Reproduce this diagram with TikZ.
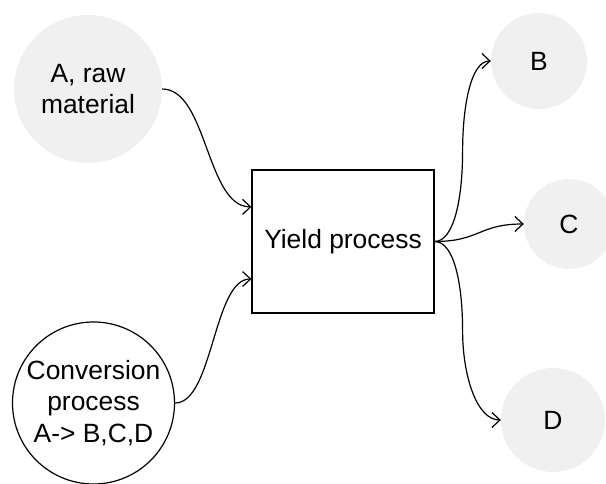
\documentclass[tikz,border=0pt]{standalone}
\usepackage{fontspec}
\setmainfont{Liberation Sans}
\usetikzlibrary{arrows.meta,calc}
\definecolor{softgray}{HTML}{F0F0F0}
\tikzset{
  every node/.style={font=\fontsize{26.4}{31.5}\selectfont, align=center, inner sep=0pt},
  graycircle/.style={circle, fill=softgray, draw=none},
  whitecircle/.style={circle, fill=white, draw=black, line width=1.2pt},
  procbox/.style={rectangle, draw=black, fill=white, line width=1.2pt, minimum width=182pt, minimum height=143pt},
  link/.style={line width=1.2pt, -{Straight Barb[length=8pt,width=15pt]}},
}
\begin{document}
\begin{tikzpicture}[x=1pt,y=-1pt]
\useasboundingbox (0,0) rectangle (606,484);
\node[graycircle, minimum size=148pt] (A) at (88,89) {A, raw\\material};
\node[whitecircle, minimum size=162pt] (conv) at (93.5,403) {Conversion\\process\\A-> B,C,D};
\node[procbox] (box) at (343,241.5) {Yield process};
\node[graycircle, minimum size=96pt] (B) at (539,61) {B};
\node[graycircle, minimum size=90pt] (C) at (569,224) {C};
\node[graycircle, minimum size=104pt] (D) at (553,420) {D};

\coordinate (boxin1) at ($(box.north west)!0.26!(box.south west)$);
\coordinate (boxin2) at ($(box.north west)!0.76!(box.south west)$);
\coordinate (bend) at ($(box.east)+(28,0)$);
\coordinate (midB) at ($(box.east)!0.5!(B.west)$);
\coordinate (midD) at ($(box.east)!0.5!(D.west)$);

\draw[link] (A.east) .. controls +(45,0) and +(-45,0) .. (boxin1);
\draw[link] (conv.east) .. controls +(38,0) and +(-38,0) .. (boxin2);
\draw[link] (box.east) .. controls +(20,0) and +(0,45) .. (bend |- midB)
  .. controls +(0,-45) and +(-20,0) .. (B.west);
\draw[link] (box.east) .. controls +(45,0) and +(-45,0) .. (C.west);
\draw[link] (box.east) .. controls +(20,0) and +(0,-45) .. (bend |- midD)
  .. controls +(0,45) and +(-24,0) .. (D.west);
\end{tikzpicture}
\end{document}
